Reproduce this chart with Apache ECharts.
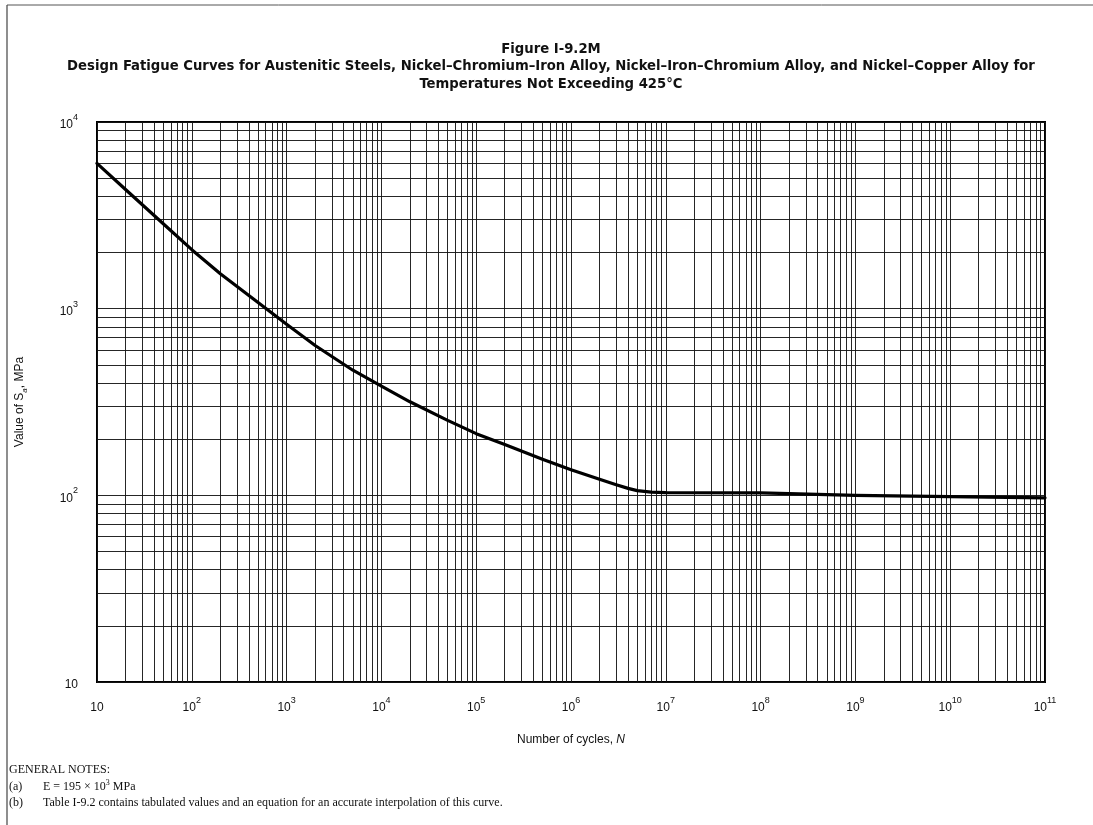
<!DOCTYPE html>
<html>
<head>
<meta charset="utf-8">
<script src="https://cdn.jsdelivr.net/npm/echarts@6/dist/echarts.min.js"></script>
<style>
html,body{margin:0;padding:0;background:#fff;}
#chart{width:1093px;height:825px;}
</style>
</head>
<body>
<div id="chart"></div>
<script>
// ---- data ----
const cycles = [10, 20, 50, 100, 200, 500, 1e3, 2e3, 5e3, 1e4, 2e4, 5e4, 1e5, 2e5, 5e5, 1e6, 2e6, 3e6, 4e6, 5e6, 7e6, 1e7, 1e8, 1e9, 1e10, 1e11];
const stressAmp = [6000, 4350, 2850, 2070, 1540, 1080, 825, 635, 468, 385, 317, 252, 214, 187, 156, 137, 122, 114, 109, 106, 104, 103.5, 103, 100, 98.5, 97];

// tick label exponents (10^1 ... 10^11 on x, 10^1 ... 10^4 on y)
const xExponents = [1, 2, 3, 4, 5, 6, 7, 8, 9, 10, 11];
const yDecades = [10, 1e2, 1e3, 1e4];
const xDecades = [10, 1e2, 1e3, 1e4, 1e5, 1e6, 1e7, 1e8, 1e9, 1e10, 1e11];
const minorMultipliers = [2, 3, 4, 5, 6, 7, 8, 9];

const titleLines = [
  'Figure I-9.2M',
  'Design Fatigue Curves for Austenitic Steels, Nickel\u2013Chromium\u2013Iron Alloy, Nickel\u2013Iron\u2013Chromium Alloy, and Nickel\u2013Copper Alloy for',
  'Temperatures Not Exceeding 425\u00B0C'
];
const notes = {
  head: 'GENERAL NOTES:',
  a: 'E = 195 \u00D7 10',
  aSup: '3',
  aTail: ' MPa',
  b: 'Table I-9.2 contains tabulated values and an equation for an accurate interpolation of this curve.'
};

// ---- grid line values (decades and 2..9 multiples) ----
function gridValues(decades) {
  const out = [];
  for (let i = 0; i < decades.length; i++) {
    out.push(decades[i]);
    if (i < decades.length - 1) minorMultipliers.forEach(m => out.push(decades[i] * m));
  }
  return out;
}
const xGrid = gridValues(xDecades);
const yGrid = gridValues(yDecades);

const sansFont = "'Liberation Sans', Arial, Helvetica, sans-serif";
const narrowFont = "'Liberation Sans Narrow', 'DejaVu Sans Condensed', 'Liberation Sans', sans-serif";
const serifFont = "'Liberation Serif', 'Times New Roman', serif";

function expLabel(e) {
  if (e === 1) return '{b|10}';
  return '{b|10}{s|' + e + '}';
}
const powRich = {
  b: { fontSize: 12, fontFamily: sansFont, color: '#111', lineHeight: 18, verticalAlign: 'bottom' },
  s: { fontSize: 9, fontFamily: sansFont, color: '#111', lineHeight: 16, verticalAlign: 'top' }
};

const gridLineStyle = { color: '#141414', width: 1, type: 'solid', opacity: 0.92 };

const chart = echarts.init(document.getElementById('chart'), null, { renderer: 'canvas' });
chart.setOption({
  backgroundColor: '#fff',
  animation: false,
  title: {
    text: titleLines.join('\n'),
    left: 546,
    top: 35,
    textAlign: 'center',
    textStyle: {
      fontFamily: narrowFont,
      fontWeight: 'bold',
      fontSize: 14.7,
      lineHeight: 17.5,
      color: '#111'
    }
  },
  grid: {
    left: 97, right: 48, top: 122, bottom: 143,
    show: true, borderColor: '#000', borderWidth: 2, backgroundColor: 'transparent'
  },
  xAxis: [
    {
      type: 'log', logBase: 10, min: 10, max: 1e11, position: 'bottom',
      name: '{t|Number of cycles, }{i|N}',
      nameLocation: 'middle', nameGap: 52,
      nameTextStyle: {
        rich: {
          t: { fontSize: 12, fontFamily: sansFont, color: '#111' },
          i: { fontSize: 12, fontFamily: sansFont, fontStyle: 'italic', color: '#111' }
        }
      },
      axisLine: { show: true, lineStyle: { color: '#000', width: 2 } },
      axisTick: { show: false },
      splitLine: { show: false },
      minorTick: { show: false },
      axisLabel: { show: false }
    },
    {
      // exponent axis sharing the same grid, only used for the decade tick labels
      type: 'value', min: xExponents[0], max: xExponents[xExponents.length - 1], interval: 1,
      position: 'bottom',
      axisLine: { show: false },
      axisTick: { show: false },
      splitLine: { show: false },
      axisLabel: { margin: 14, formatter: v => expLabel(Math.round(v)), rich: powRich }
    }
  ],
  yAxis: {
    type: 'log', logBase: 10, min: 10, max: 1e4, splitNumber: 3,
    name: '{t|Value of S}{s|a}{t|, MPa}',
    nameLocation: 'middle', nameGap: 68, nameRotate: 90,
    nameTextStyle: {
      rich: {
        t: { fontSize: 12, fontFamily: sansFont, color: '#111', lineHeight: 18, verticalAlign: 'middle' },
        s: { fontSize: 8, fontFamily: sansFont, fontStyle: 'italic', color: '#111', lineHeight: 14, verticalAlign: 'bottom' }
      }
    },
    axisLine: { show: true, lineStyle: { color: '#000', width: 2 } },
    axisTick: { show: false },
    splitLine: { show: false },
    minorTick: { show: false },
    axisLabel: { margin: 19, formatter: v => expLabel(Math.round(Math.log10(v))), rich: powRich }
  },
  series: [
    {
      type: 'line',
      xAxisIndex: 0,
      data: cycles.map((n, i) => [n, stressAmp[i]]),
      showSymbol: false,
      smooth: false,
      lineStyle: { color: '#000', width: 3.2, join: 'round', cap: 'round' },
      z: 5,
      markLine: {
        silent: true,
        symbol: ['none', 'none'],
        label: { show: false },
        lineStyle: gridLineStyle,
        animation: false,
        data: xGrid.map(v => ({ xAxis: v })).concat(yGrid.map(v => ({ yAxis: v })))
      }
    }
  ],
  graphic: [
    { type: 'line', shape: { x1: 7, y1: 5, x2: 1093, y2: 5 }, style: { stroke: '#555', lineWidth: 1 } },
    { type: 'line', shape: { x1: 7, y1: 5, x2: 7, y2: 825 }, style: { stroke: '#444', lineWidth: 1.2 } },
    { type: 'text', left: 9, top: 764, style: { text: notes.head, font: '12px ' + serifFont, fill: '#111' } },
    { type: 'text', left: 9, top: 781, style: { text: '(a)', font: '12px ' + serifFont, fill: '#111' } },
    {
      type: 'text', left: 43, top: 779,
      style: {
        text: '{t|' + notes.a + '}{s|' + notes.aSup + '}{t|' + notes.aTail + '}',
        rich: {
          t: { font: '12px ' + serifFont, fill: '#111', lineHeight: 14, verticalAlign: 'bottom' },
          s: { font: '8px ' + serifFont, fill: '#111', lineHeight: 14, verticalAlign: 'top' }
        }
      }
    },
    { type: 'text', left: 9, top: 797, style: { text: '(b)', font: '12px ' + serifFont, fill: '#111' } },
    { type: 'text', left: 43, top: 797, style: { text: notes.b, font: '12px ' + serifFont, fill: '#111' } }
  ]
});
</script>
</body>
</html>
